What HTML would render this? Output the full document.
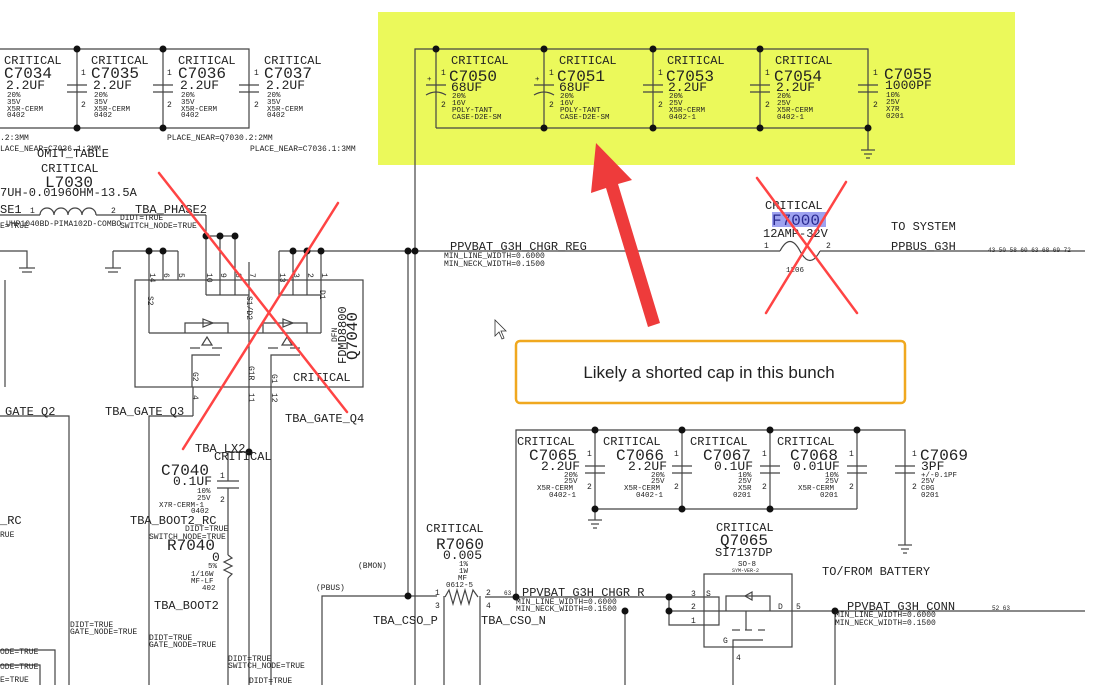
<!DOCTYPE html>
<html><head><meta charset="utf-8"><style>
html,body{margin:0;padding:0;background:#fff;}
svg{display:block;}
text{font-family:"Liberation Mono",monospace;fill:#222;}
.c{font-size:12px;}
.n{font-size:16px;}
.v{font-size:13px;}
.s{font-size:7.5px;}
.p{font-size:8px;}
.t{font-size:12px;}
</style></head><body>
<svg width="1102" height="685" viewBox="0 0 1102 685" xmlns="http://www.w3.org/2000/svg">
<rect x="378" y="12" width="637" height="153" fill="#ebf95b"/>
<g stroke="#444" stroke-width="1.2" fill="none">
<polyline points="0,49 249,49 249,128 0,128"/>
<line x1="77" y1="49" x2="77" y2="128"/><line x1="163" y1="49" x2="163" y2="128"/>
<line x1="67" y1="85" x2="87" y2="85"/><line x1="67" y1="92" x2="87" y2="92"/>
<line x1="153" y1="85" x2="173" y2="85"/><line x1="153" y1="92" x2="173" y2="92"/>
<line x1="239" y1="85" x2="259" y2="85"/><line x1="239" y1="92" x2="259" y2="92"/>
<polyline points="415,251 415,49 868,49 868,150"/>
<line x1="436" y1="128" x2="868" y2="128"/>
<line x1="436" y1="49" x2="436" y2="128"/><line x1="544" y1="49" x2="544" y2="128"/>
<line x1="653" y1="49" x2="653" y2="128"/><line x1="760" y1="49" x2="760" y2="128"/>
<line x1="426" y1="85" x2="446" y2="85"/><path d="M426,95 Q436,89 446,95"/>
<line x1="534" y1="85" x2="554" y2="85"/><path d="M534,95 Q544,89 554,95"/>
<line x1="643" y1="85" x2="663" y2="85"/><line x1="643" y1="92" x2="663" y2="92"/>
<line x1="750" y1="85" x2="770" y2="85"/><line x1="750" y1="92" x2="770" y2="92"/>
<line x1="858" y1="85" x2="878" y2="85"/><line x1="858" y1="92" x2="878" y2="92"/>
<line x1="861" y1="150" x2="875" y2="150"/><line x1="864" y1="154" x2="872" y2="154"/><line x1="866" y1="158" x2="870" y2="158"/>
<line x1="279" y1="251" x2="780" y2="251"/><line x1="840" y1="251" x2="1085" y2="251"/>
<path d="M780,251 Q790,232 800,251 Q810,270 820,251"/><line x1="820" y1="251" x2="840" y2="251"/>
<line x1="408" y1="251" x2="408" y2="596"/><line x1="415" y1="251" x2="415" y2="685"/>
<line x1="0" y1="215" x2="40" y2="215"/>
<path d="M40,215 A7,7 0 0 1 54,215 A7,7 0 0 1 68,215 A7,7 0 0 1 82,215 A7,7 0 0 1 96,215"/>
<line x1="96" y1="215" x2="206" y2="215"/>
<rect x="135" y="280" width="228" height="107"/>
<line x1="5" y1="280" x2="5" y2="387"/>
<polyline points="0,251 27,251 27,268"/><line x1="19" y1="268" x2="35" y2="268"/><line x1="22" y1="272" x2="32" y2="272"/>
<polyline points="113,251 178,251"/><polyline points="113,251 113,268"/><line x1="105" y1="268" x2="121" y2="268"/><line x1="108" y1="272" x2="118" y2="272"/>
<line x1="149" y1="251" x2="149" y2="280"/><line x1="163" y1="251" x2="163" y2="280"/><line x1="178" y1="251" x2="178" y2="280"/>
<line x1="206" y1="215" x2="206" y2="295"/><line x1="206" y1="236" x2="235" y2="236"/>
<line x1="220" y1="236" x2="220" y2="295"/><line x1="235" y1="236" x2="235" y2="295"/>
<line x1="206" y1="295" x2="249" y2="295"/>
<line x1="249" y1="262" x2="249" y2="685"/>
<line x1="279" y1="251" x2="279" y2="295"/><line x1="293" y1="251" x2="293" y2="295"/><line x1="307" y1="251" x2="307" y2="295"/><line x1="321" y1="251" x2="321" y2="333"/>
<line x1="279" y1="295" x2="321" y2="295"/>
<line x1="149" y1="280" x2="149" y2="333"/><line x1="149" y1="333" x2="321" y2="333"/>
<polyline points="185,333 185,323 228,323 228,333"/><polyline points="263,333 263,323 307,323 307,333"/>
<polygon points="203,319 213,323 203,327"/><polygon points="283,319 293,323 283,327"/>
<polygon points="202,345 212,345 207,337"/><polygon points="282,345 292,345 287,337"/>
<line x1="190" y1="348" x2="200" y2="348"/><line x1="212" y1="348" x2="222" y2="348"/>
<line x1="268" y1="348" x2="278" y2="348"/><line x1="290" y1="348" x2="300" y2="348"/>
<polyline points="192,387 192,355 220,355"/><polyline points="271,685 271,355 300,355"/>
<line x1="193" y1="387" x2="193" y2="416"/>
<polyline points="0,416 69,416 69,685"/><polyline points="149,685 149,416 193,416"/>
<polyline points="0,650 55,650 55,685"/><polyline points="0,665 40,665 40,685"/>
<line x1="228" y1="452" x2="249" y2="452"/>
<line x1="228" y1="452" x2="228" y2="481"/><line x1="217" y1="481" x2="239" y2="481"/><line x1="217" y1="488" x2="239" y2="488"/>
<line x1="228" y1="488" x2="228" y2="555"/>
<polyline points="228,555 232,558 224,562 232,566 224,570 232,574 228,578"/>
<line x1="228" y1="578" x2="228" y2="685"/>
<polyline points="322,685 322,596 437,596"/>
<line x1="444" y1="596" x2="444" y2="685"/><line x1="480" y1="596" x2="480" y2="685"/>
<polyline points="445,597 449,590 453,604 457,590 461,604 465,590 469,604 473,590 478,597"/>
<line x1="485" y1="597" x2="669" y2="597"/>
<polyline points="516,597 516,430 905,430 905,545"/>
<line x1="595" y1="509" x2="857" y2="509"/>
<line x1="595" y1="430" x2="595" y2="520"/><line x1="682" y1="430" x2="682" y2="509"/><line x1="770" y1="430" x2="770" y2="509"/><line x1="857" y1="430" x2="857" y2="509"/>
<line x1="585" y1="466" x2="605" y2="466"/><line x1="585" y1="473" x2="605" y2="473"/>
<line x1="672" y1="466" x2="692" y2="466"/><line x1="672" y1="473" x2="692" y2="473"/>
<line x1="760" y1="466" x2="780" y2="466"/><line x1="760" y1="473" x2="780" y2="473"/>
<line x1="847" y1="466" x2="867" y2="466"/><line x1="847" y1="473" x2="867" y2="473"/>
<line x1="895" y1="466" x2="915" y2="466"/><line x1="895" y1="473" x2="915" y2="473"/>
<line x1="588" y1="520" x2="602" y2="520"/><line x1="591" y1="524" x2="599" y2="524"/><line x1="593" y1="528" x2="597" y2="528"/>
<line x1="898" y1="545" x2="912" y2="545"/><line x1="901" y1="549" x2="909" y2="549"/><line x1="903" y1="553" x2="907" y2="553"/>
<rect x="704" y="574" width="88" height="73"/>
<polyline points="669,597 669,625 719,625 719,597 669,597"/>
<line x1="669" y1="611" x2="1085" y2="611"/>
<line x1="625" y1="611" x2="625" y2="685"/><line x1="835" y1="611" x2="835" y2="685"/>
<polyline points="726,611 726,596 770,596 770,611"/>
<polygon points="752,592 752,600 745,596"/>
<line x1="732" y1="630" x2="740" y2="630"/><line x1="745" y1="630" x2="752" y2="630"/><line x1="758" y1="630" x2="765" y2="630"/>
<line x1="746" y1="611" x2="746" y2="630"/>
<polyline points="733,685 733,640 763,640"/>
</g>
<g fill="#111">
<circle cx="77" cy="49" r="3.5"/><circle cx="163" cy="49" r="3.5"/><circle cx="77" cy="128" r="3.5"/><circle cx="163" cy="128" r="3.5"/>
<circle cx="436" cy="49" r="3.5"/><circle cx="544" cy="49" r="3.5"/><circle cx="653" cy="49" r="3.5"/><circle cx="760" cy="49" r="3.5"/>
<circle cx="544" cy="128" r="3.5"/><circle cx="653" cy="128" r="3.5"/><circle cx="760" cy="128" r="3.5"/><circle cx="868" cy="128" r="3.5"/>
<circle cx="408" cy="251" r="3.5"/><circle cx="415" cy="251" r="3.5"/><circle cx="408" cy="596" r="3.5"/>
<circle cx="149" cy="251" r="3.5"/><circle cx="163" cy="251" r="3.5"/><circle cx="206" cy="236" r="3.5"/><circle cx="220" cy="236" r="3.5"/><circle cx="235" cy="236" r="3.5"/>
<circle cx="293" cy="251" r="3.5"/><circle cx="307" cy="251" r="3.5"/><circle cx="321" cy="251" r="3.5"/>
<circle cx="249" cy="452" r="3.5"/>
<circle cx="595" cy="430" r="3.5"/><circle cx="682" cy="430" r="3.5"/><circle cx="770" cy="430" r="3.5"/><circle cx="857" cy="430" r="3.5"/>
<circle cx="595" cy="509" r="3.5"/><circle cx="682" cy="509" r="3.5"/><circle cx="770" cy="509" r="3.5"/>
<circle cx="516" cy="597" r="3.5"/><circle cx="669" cy="597" r="3.5"/><circle cx="669" cy="611" r="3.5"/><circle cx="625" cy="611" r="3.5"/><circle cx="835" cy="611" r="3.5"/>
</g>
<g>
<text class="c" x="4" y="64">CRITICAL</text><text class="n" x="4" y="78">C7034</text><text class="v" x="6" y="89">2.2UF</text>
<text class="s" x="7" y="97">20%</text><text class="s" x="7" y="104">35V</text><text class="s" x="7" y="111">X5R-CERM</text><text class="s" x="7" y="117">0402</text>
<text class="c" x="91" y="64">CRITICAL</text><text class="n" x="91" y="78">C7035</text><text class="v" x="93" y="89">2.2UF</text>
<text class="s" x="94" y="97">20%</text><text class="s" x="94" y="104">35V</text><text class="s" x="94" y="111">X5R-CERM</text><text class="s" x="94" y="117">0402</text>
<text class="c" x="178" y="64">CRITICAL</text><text class="n" x="178" y="78">C7036</text><text class="v" x="180" y="89">2.2UF</text>
<text class="s" x="181" y="97">20%</text><text class="s" x="181" y="104">35V</text><text class="s" x="181" y="111">X5R-CERM</text><text class="s" x="181" y="117">0402</text>
<text class="c" x="264" y="64">CRITICAL</text><text class="n" x="264" y="78">C7037</text><text class="v" x="266" y="89">2.2UF</text>
<text class="s" x="267" y="97">20%</text><text class="s" x="267" y="104">35V</text><text class="s" x="267" y="111">X5R-CERM</text><text class="s" x="267" y="117">0402</text>
<text class="p" x="81" y="75">1</text><text class="p" x="81" y="107">2</text><text class="p" x="167" y="75">1</text><text class="p" x="167" y="107">2</text><text class="p" x="254" y="75">1</text><text class="p" x="254" y="107">2</text>
<text class="p" x="0" y="140">.2:3MM</text><text class="p" x="0" y="151">LACE_NEAR=C7036.1:3MM</text>
<text class="p" x="167" y="140">PLACE_NEAR=Q7030.2:2MM</text><text class="p" x="250" y="151">PLACE_NEAR=C7036.1:3MM</text>
<text class="t" x="37" y="157">OMIT_TABLE</text><text class="t" x="41" y="172">CRITICAL</text><text class="n" x="45" y="187">L7030</text>
<text class="t" x="0" y="196">7UH-0.0196OHM-13.5A</text>
<text class="t" x="0" y="213">SE1</text><text class="p" x="30" y="213">1</text><text class="p" x="111" y="213">2</text>
<text class="t" x="135" y="213">TBA_PHASE2</text>
<text class="p" x="120" y="220">DIDT=TRUE</text><text class="p" x="120" y="228">SWITCH_NODE=TRUE</text>
<text class="p" x="0" y="228">E=TRUE</text><text class="p" x="6" y="226">UHP1040BD-PIMA102D-COMBO</text>
<text class="p" x="150" y="273" transform="rotate(90 150 273)">14</text>
<text class="p" x="164" y="273" transform="rotate(90 164 273)">6</text>
<text class="p" x="179" y="273" transform="rotate(90 179 273)">5</text>
<text class="p" x="207" y="273" transform="rotate(90 207 273)">10</text>
<text class="p" x="221" y="273" transform="rotate(90 221 273)">9</text>
<text class="p" x="236" y="273" transform="rotate(90 236 273)">8</text>
<text class="p" x="250" y="273" transform="rotate(90 250 273)">7</text>
<text class="p" x="280" y="273" transform="rotate(90 280 273)">13</text>
<text class="p" x="294" y="273" transform="rotate(90 294 273)">3</text>
<text class="p" x="308" y="273" transform="rotate(90 308 273)">2</text>
<text class="p" x="322" y="273" transform="rotate(90 322 273)">1</text>
<text class="p" x="148" y="296" transform="rotate(90 148 296)">S2</text>
<text class="p" x="247" y="296" transform="rotate(90 247 296)">S1/D2</text>
<text class="p" x="320" y="290" transform="rotate(90 320 290)">D1</text>
<text class="p" x="193" y="372" transform="rotate(90 193 372)">G2</text>
<text class="p" x="249" y="366" transform="rotate(90 249 366)">G1R</text>
<text class="p" x="272" y="374" transform="rotate(90 272 374)">G1</text>
<text class="p" x="193" y="395" transform="rotate(90 193 395)">4</text>
<text class="p" x="249" y="393" transform="rotate(90 249 393)">11</text>
<text class="p" x="272" y="393" transform="rotate(90 272 393)">12</text>
<text class="p" x="337" y="342" transform="rotate(-90 337 342)">DFN</text>
<text class="t" x="346" y="364" transform="rotate(-90 346 364)">FDMD8800</text>
<text class="n" x="357" y="360" transform="rotate(-90 357 360)">Q7040</text>
<text class="t" x="293" y="381">CRITICAL</text>
<text class="t" x="5" y="415">GATE_Q2</text><text class="t" x="105" y="415">TBA_GATE_Q3</text><text class="t" x="285" y="422">TBA_GATE_Q4</text>
<text class="t" x="195" y="452">TBA_LX2</text><text class="t" x="214" y="460">CRITICAL</text>
<text class="n" x="161" y="475">C7040</text><text class="v" x="173" y="485">0.1UF</text>
<text class="p" x="220" y="478">1</text><text class="p" x="220" y="502">2</text>
<text class="s" x="197" y="493">10%</text><text class="s" x="197" y="500">25V</text><text class="s" x="159" y="507">X7R-CERM-1</text><text class="s" x="191" y="513">0402</text>
<text class="t" x="130" y="524">TBA_BOOT2_RC</text><text class="t" x="0" y="524">_RC</text><text class="p" x="0" y="537">RUE</text>
<text class="p" x="185" y="531">DIDT=TRUE</text><text class="p" x="149" y="539">SWITCH_NODE=TRUE</text>
<text class="n" x="167" y="550">R7040</text><text class="v" x="212" y="561">0</text>
<text class="s" x="208" y="568">5%</text><text class="s" x="191" y="576">1/16W</text><text class="s" x="191" y="583">MF-LF</text><text class="s" x="202" y="590">402</text>
<text class="t" x="154" y="609">TBA_BOOT2</text>
<text class="p" x="70" y="627">DIDT=TRUE</text><text class="p" x="70" y="634">GATE_NODE=TRUE</text>
<text class="p" x="149" y="640">DIDT=TRUE</text><text class="p" x="149" y="647">GATE_NODE=TRUE</text>
<text class="p" x="0" y="654">ODE=TRUE</text><text class="p" x="0" y="669">ODE=TRUE</text><text class="p" x="0" y="682">E=TRUE</text>
<text class="p" x="228" y="661">DIDT=TRUE</text><text class="p" x="228" y="668">SWITCH_NODE=TRUE</text><text class="p" x="249" y="683">DIDT=TRUE</text>
<text class="p" x="358" y="568">(BMON)</text><text class="p" x="316" y="590">(PBUS)</text>
<text class="t" x="373" y="624">TBA_CSO_P</text><text class="t" x="481" y="624">TBA_CSO_N</text>
</g>
<g>
<text class="c" x="451" y="64">CRITICAL</text><text class="n" x="449" y="81">C7050</text><text class="v" x="451" y="91">68UF</text>
<text class="s" x="452" y="98">20%</text><text class="s" x="452" y="105">16V</text><text class="s" x="452" y="112">POLY-TANT</text><text class="s" x="452" y="119">CASE-D2E-SM</text>
<text class="c" x="559" y="64">CRITICAL</text><text class="n" x="557" y="81">C7051</text><text class="v" x="559" y="91">68UF</text>
<text class="s" x="560" y="98">20%</text><text class="s" x="560" y="105">16V</text><text class="s" x="560" y="112">POLY-TANT</text><text class="s" x="560" y="119">CASE-D2E-SM</text>
<text class="c" x="667" y="64">CRITICAL</text><text class="n" x="666" y="81">C7053</text><text class="v" x="668" y="91">2.2UF</text>
<text class="s" x="669" y="98">20%</text><text class="s" x="669" y="105">25V</text><text class="s" x="669" y="112">X5R-CERM</text><text class="s" x="669" y="119">0402-1</text>
<text class="c" x="775" y="64">CRITICAL</text><text class="n" x="774" y="81">C7054</text><text class="v" x="776" y="91">2.2UF</text>
<text class="s" x="777" y="98">20%</text><text class="s" x="777" y="105">25V</text><text class="s" x="777" y="112">X5R-CERM</text><text class="s" x="777" y="119">0402-1</text>
<text class="n" x="884" y="79">C7055</text><text class="v" x="885" y="89">1000PF</text>
<text class="s" x="886" y="97">10%</text><text class="s" x="886" y="104">25V</text><text class="s" x="886" y="111">X7R</text><text class="s" x="886" y="118">0201</text>
<text class="p" x="441" y="75">1</text><text class="p" x="441" y="107">2</text><text class="p" x="549" y="75">1</text><text class="p" x="549" y="107">2</text>
<text class="p" x="658" y="75">1</text><text class="p" x="658" y="107">2</text><text class="p" x="765" y="75">1</text><text class="p" x="765" y="107">2</text>
<text class="p" x="873" y="75">1</text><text class="p" x="873" y="107">2</text>
<text class="s" x="427" y="81">+</text><text class="s" x="535" y="81">+</text>
</g>
<g>
<text class="t" x="450" y="250">PPVBAT_G3H_CHGR_REG</text>
<text class="p" x="444" y="258">MIN_LINE_WIDTH=0.6000</text><text class="p" x="444" y="266">MIN_NECK_WIDTH=0.1500</text>
<rect x="772" y="212" width="54" height="15" fill="#9ea2f0"/>
<text class="t" x="765" y="209">CRITICAL</text><text class="n" x="772" y="225" style="fill:#2a2a90">F7000</text>
<text class="t" x="763" y="237">12AMP-32V</text>
<text class="p" x="764" y="248">1</text><text class="p" x="826" y="248">2</text><text class="s" x="786" y="272">1206</text>
<text class="t" x="891" y="230">TO SYSTEM</text><text class="t" x="891" y="250">PPBUS_G3H</text>
<text class="s" x="988" y="252" style="font-size:6px">43 50 58 60 63 68 69 72</text>
</g>
<g>
<text class="c" x="517" y="445">CRITICAL</text><text class="n" x="529" y="460">C7065</text><text class="v" x="541" y="470">2.2UF</text>
<text class="s" x="564" y="477">20%</text><text class="s" x="564" y="483">25V</text><text class="s" x="537" y="490">X5R-CERM</text><text class="s" x="549" y="497">0402-1</text>
<text class="c" x="603" y="445">CRITICAL</text><text class="n" x="616" y="460">C7066</text><text class="v" x="628" y="470">2.2UF</text>
<text class="s" x="651" y="477">20%</text><text class="s" x="651" y="483">25V</text><text class="s" x="624" y="490">X5R-CERM</text><text class="s" x="636" y="497">0402-1</text>
<text class="c" x="690" y="445">CRITICAL</text><text class="n" x="703" y="460">C7067</text><text class="v" x="714" y="470">0.1UF</text>
<text class="s" x="738" y="477">10%</text><text class="s" x="738" y="483">25V</text><text class="s" x="738" y="490">X5R</text><text class="s" x="733" y="497">0201</text>
<text class="c" x="777" y="445">CRITICAL</text><text class="n" x="790" y="460">C7068</text><text class="v" x="793" y="470">0.01UF</text>
<text class="s" x="825" y="477">10%</text><text class="s" x="825" y="483">25V</text><text class="s" x="798" y="490">X5R-CERM</text><text class="s" x="820" y="497">0201</text>
<text class="n" x="920" y="460">C7069</text><text class="v" x="921" y="470">3PF</text>
<text class="s" x="921" y="477">+/-0.1PF</text><text class="s" x="921" y="483">25V</text><text class="s" x="921" y="490">C0G</text><text class="s" x="921" y="497">0201</text>
<text class="p" x="587" y="456">1</text><text class="p" x="587" y="489">2</text><text class="p" x="674" y="456">1</text><text class="p" x="674" y="489">2</text>
<text class="p" x="762" y="456">1</text><text class="p" x="762" y="489">2</text><text class="p" x="849" y="456">1</text><text class="p" x="849" y="489">2</text>
<text class="p" x="912" y="456">1</text><text class="p" x="912" y="489">2</text>
<text class="c" x="426" y="532">CRITICAL</text><text class="n" x="436" y="549">R7060</text><text class="v" x="443" y="559">0.005</text>
<text class="s" x="459" y="566">1%</text><text class="s" x="459" y="573">1W</text><text class="s" x="458" y="580">MF</text><text class="s" x="446" y="587">0612-5</text>
<text class="p" x="435" y="595">1</text><text class="p" x="435" y="608">3</text><text class="p" x="486" y="595">2</text><text class="p" x="486" y="608">4</text>
<text class="s" x="504" y="595" style="font-size:6px">63</text>
<text class="t" x="522" y="596">PPVBAT_G3H_CHGR_R</text>
<text class="p" x="516" y="604">MIN_LINE_WIDTH=0.6000</text><text class="p" x="516" y="611">MIN_NECK_WIDTH=0.1500</text>
<text class="c" x="716" y="531">CRITICAL</text><text class="n" x="720" y="545">Q7065</text><text class="t" x="715" y="556">SI7137DP</text>
<text class="s" x="738" y="566">SO-8</text><text class="s" x="732" y="572" style="font-size:5px">SYM-VER-2</text>
<text class="p" x="691" y="596">3</text><text class="p" x="691" y="609">2</text><text class="p" x="691" y="623">1</text>
<text class="p" x="706" y="596">S</text><text class="p" x="778" y="609">D</text><text class="p" x="796" y="609">5</text>
<text class="p" x="723" y="643">G</text><text class="p" x="736" y="660">4</text>
<text class="t" x="822" y="575">TO/FROM BATTERY</text>
<text class="t" x="847" y="610">PPVBAT_G3H_CONN</text>
<text class="p" x="835" y="617">MIN_LINE_WIDTH=0.6000</text><text class="p" x="835" y="625">MIN_NECK_WIDTH=0.1500</text>
<text class="s" x="992" y="610" style="font-size:6px">52 63</text>
</g>
<g stroke="#f44" stroke-width="2.5" fill="none" stroke-linecap="round">
<line x1="159" y1="173" x2="347" y2="412"/><line x1="338" y1="203" x2="183" y2="449"/>
<line x1="757" y1="178" x2="857" y2="313"/><line x1="846" y1="182" x2="766" y2="313"/>
</g>
<polygon points="596,143 632,180 618,184 660,323 648,327 606,188 591,193" fill="#ee3b3b"/>
<rect x="516" y="341" width="389" height="62" rx="4" fill="#fff" stroke="#f0a81f" stroke-width="2.5"/>
<text x="709" y="378" text-anchor="middle" style="font-family:'Liberation Sans',sans-serif;font-size:17px;fill:#222">Likely a shorted cap in this bunch</text>
<path d="M495,320 L495,336 L499,332 L502,339 L504,338 L501,331 L506,331 Z" fill="#fff" stroke="#333" stroke-width="0.8"/>
</svg>
</body></html>
